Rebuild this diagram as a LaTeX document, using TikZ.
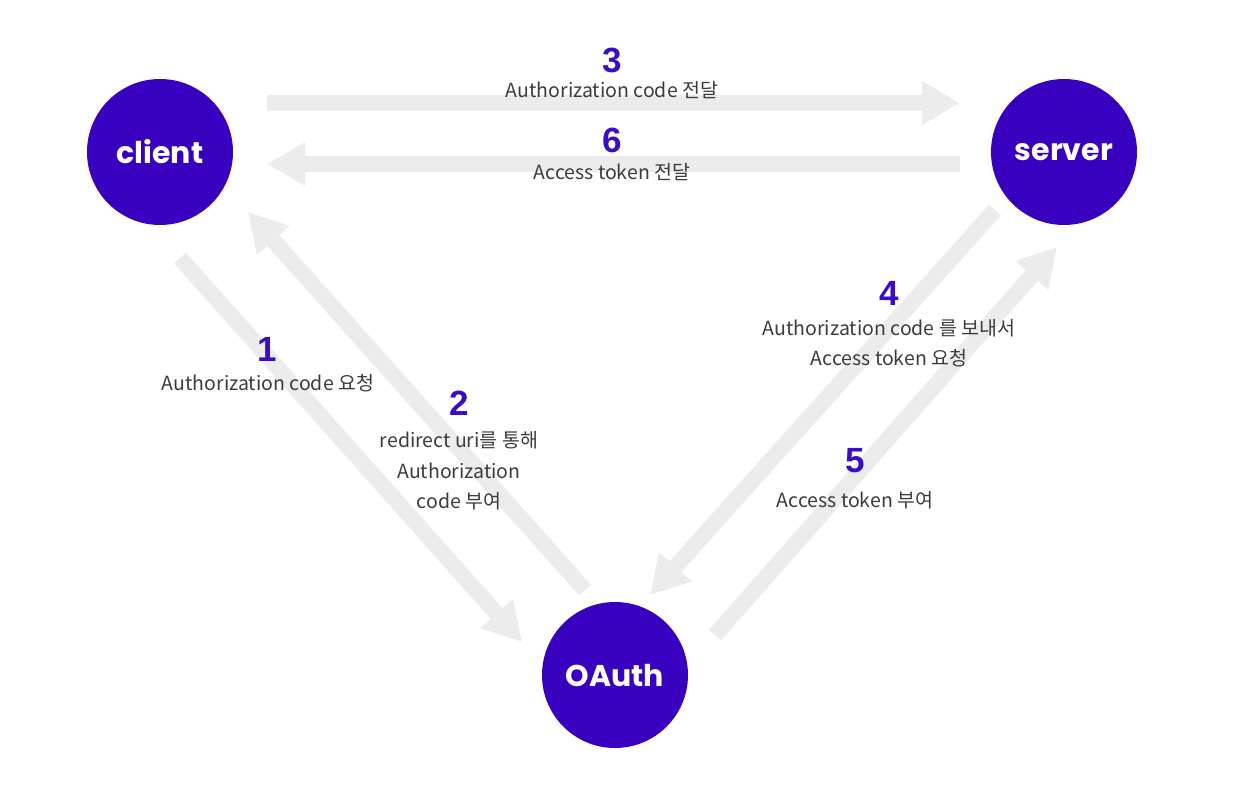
\documentclass[tikz,border=0pt]{standalone}
\usepackage{fontspec}
\newfontfamily\krfont{Noto Sans CJK KR}
\newfontfamily\numfont{Liberation Sans}
\newfontfamily\nodefont{Poppins}
\usetikzlibrary{arrows.meta}
\definecolor{oauthpurple}{HTML}{3A00BF}
\definecolor{numpurple}{HTML}{3A0CC8}
\definecolor{arrowgray}{HTML}{ECECEC}
\definecolor{labelgray}{HTML}{3C3C3C}
\tikzset{
  party/.style={circle, fill=oauthpurple, minimum size=146pt, inner sep=0pt,
    text=white, font=\nodefont\bfseries\fontsize{30}{30}\selectfont},
  flow/.style={draw=arrowgray, line width=16pt,
    -{Triangle[length=38pt, width=41pt]}},
  stepnum/.style={text=numpurple, font=\numfont\bfseries\fontsize{35}{35}\selectfont, inner sep=0pt},
  steplabel/.style={text=labelgray, font=\krfont\fontsize{19.5}{30.5}\selectfont, align=center, inner sep=0pt}
}
\begin{document}
\begin{tikzpicture}[x=1pt, y=-1pt]
\useasboundingbox (0,0) rectangle (1236,784);
\fill[white] (0,0) rectangle (1236,784);

% endpoints of the flows
\coordinate (s3) at (267,103);  \coordinate (e3) at (960,103);
\coordinate (s6) at (960,164);  \coordinate (e6) at (267,164);
\coordinate (s1) at (180,258);  \coordinate (e1) at (522,642);
\coordinate (s2) at (585,590);  \coordinate (e2) at (248,212);
\coordinate (s4) at (995,210);  \coordinate (e4) at (650,595);
\coordinate (s5) at (715,635);  \coordinate (e5) at (1057,247);

\draw[flow] (s3) -- (e3);
\draw[flow] (s6) -- (e6);
\draw[flow] (s1) -- (e1);
\draw[flow] (s2) -- (e2);
\draw[flow] (s4) -- (e4);
\draw[flow] (s5) -- (e5);

\node[party] (client) at (160,152) {client};
\node[party] (server) at (1064,152) {server};
\node[party] (oauth) at (615,675) {OAuth};

\node[stepnum] (n3) at (612,60) {3};
\node[steplabel] (l3) at (612,90) {Authorization code 전달};
\node[stepnum] (n6) at (612,140) {6};
\node[steplabel] (l6) at (612,172) {Access token 전달};
\node[stepnum] (n1) at (267,349) {1};
\node[steplabel] (l1) at (268,383) {Authorization code 요청};
\node[stepnum] (n2) at (459,403) {2};
\node[steplabel] (l2) at (459,471) {redirect uri를 통해\\Authorization\\code 부여};
\node[stepnum] (n4) at (889,293) {4};
\node[steplabel] (l4) at (889,343) {Authorization code 를 보내서\\Access token 요청};
\node[stepnum] (n5) at (855,461) {5};
\node[steplabel] (l5) at (855,500) {Access token 부여};
\end{tikzpicture}
\end{document}
